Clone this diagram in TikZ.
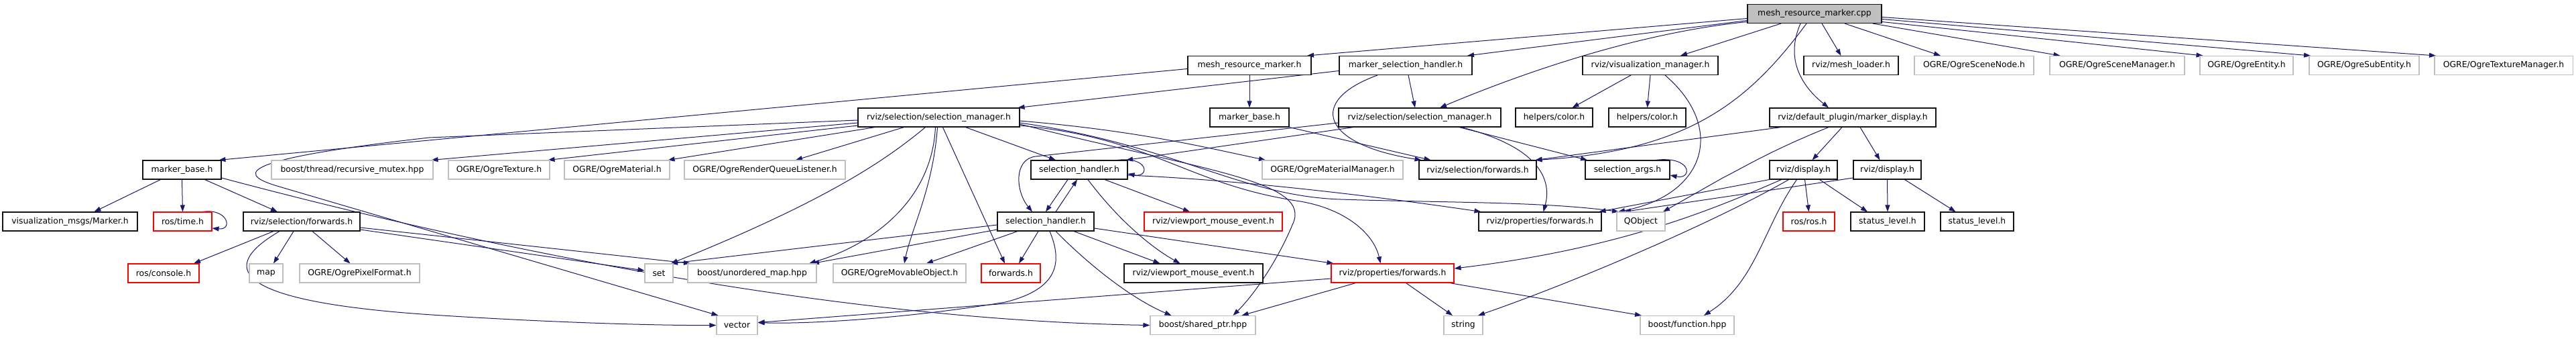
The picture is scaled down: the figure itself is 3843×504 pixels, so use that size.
\documentclass[tikz,border=0pt]{standalone}
\usepackage{fontspec}
\setmainfont{DejaVu Sans}
\usetikzlibrary{arrows.meta}
\definecolor{edgec}{RGB}{25,25,112}
\definecolor{boxgray}{RGB}{191,191,191}
\definecolor{boxred}{RGB}{255,0,0}
\definecolor{boxblack}{RGB}{20,20,20}
\newcommand\dxfont{\fontsize{12.4pt}{14pt}\selectfont}
\pgfdeclarelayer{bg}
\pgfsetlayers{bg,main}
\begin{document}
\begin{tikzpicture}[x=1pt,y=-1pt,
  nd/.style={draw=boxblack, fill=white, line width=1.1pt, minimum height=28pt, inner sep=0pt, font=\dxfont, text=black},
  ndg/.style={nd, draw=boxgray},
  ndr/.style={nd, draw=boxred},
  ndc/.style={nd, fill=boxgray},
  conn/.style={draw=edgec, line width=1pt, -{Triangle[length=10pt,width=7pt]}}]
\useasboundingbox (0,0) rectangle (3843,504);
% row 1
\node[ndc, minimum width=200pt] (cpp) at (2707,20.5) {mesh\_resource\_marker.cpp};
% row 2
\node[nd, minimum width=184pt] (mrmh) at (1864,97.5) {mesh\_resource\_marker.h};
\node[nd, minimum width=198pt] (msh) at (2097,97.5) {marker\_selection\_handler.h};
\node[nd, minimum width=202pt] (vm) at (2462,97.5) {rviz/visualization\_manager.h};
\node[nd, minimum width=141pt] (ml) at (2761.5,97.5) {rviz/mesh\_loader.h};
\node[ndg, minimum width=178pt] (sn) at (2945,97.5) {OGRE/OgreSceneNode.h};
\node[ndg, minimum width=201pt] (smg) at (3158.5,97.5) {OGRE/OgreSceneManager.h};
\node[ndg, minimum width=139pt] (ent) at (3351.5,97.5) {OGRE/OgreEntity.h};
\node[ndg, minimum width=164pt] (sub) at (3527,97.5) {OGRE/OgreSubEntity.h};
\node[ndg, minimum width=206pt] (tm) at (3735,97.5) {OGRE/OgreTextureManager.h};
% row 3
\node[nd, minimum width=241pt] (selm1) at (1400.5,175) {rviz/selection/selection\_manager.h};
\node[nd, minimum width=118pt] (mb2) at (1864,175) {marker\_base.h};
\node[nd, minimum width=242pt] (selm2) at (2118,175) {rviz/selection/selection\_manager.h};
\node[nd, minimum width=115pt] (col1) at (2318.5,175) {helpers/color.h};
\node[nd, minimum width=115pt] (col2) at (2457.5,175) {helpers/color.h};
\node[nd, minimum width=248pt] (md) at (2764,175) {rviz/default\_plugin/marker\_display.h};
% row 4
\node[nd, minimum width=117pt] (mb1) at (271.5,253) {marker\_base.h};
\node[ndg, minimum width=241pt] (rm) at (525.5,253) {boost/thread/recursive\_mutex.hpp};
\node[ndg, minimum width=151pt] (tex) at (744.5,253) {OGRE/OgreTexture.h};
\node[ndg, minimum width=157pt] (mat) at (920.5,253) {OGRE/OgreMaterial.h};
\node[ndg, minimum width=240pt] (rql) at (1141,253) {OGRE/OgreRenderQueueListener.h};
\node[nd, minimum width=144pt] (sh1) at (1610,253) {selection\_handler.h};
\node[ndg, minimum width=210pt] (mm) at (1988,253) {OGRE/OgreMaterialManager.h};
\node[nd, minimum width=175pt] (sf2) at (2204.5,253) {rviz/selection/forwards.h};
\node[nd, minimum width=126pt] (sa) at (2428,253) {selection\_args.h};
\node[nd, minimum width=101pt] (d1) at (2690.5,253) {rviz/display.h};
\node[nd, minimum width=101pt] (d2) at (2815.5,253) {rviz/display.h};
% row 5
\node[nd, minimum width=201pt] (vmm) at (104.5,330) {visualization\_msgs/Marker.h};
\node[ndr, minimum width=87pt] (rt) at (272.5,330) {ros/time.h};
\node[nd, minimum width=174pt] (sf1) at (450,330) {rviz/selection/forwards.h};
\node[nd, minimum width=144pt] (sh2) at (1560,330) {selection\_handler.h};
\node[ndr, minimum width=206pt] (vme1) at (1810,330) {rviz/viewport\_mouse\_event.h};
\node[nd, minimum width=183pt] (pf1) at (2297.5,330) {rviz/properties/forwards.h};
\node[ndg, minimum width=72pt] (qo) at (2448,330) {QObject};
\node[ndr, minimum width=77pt] (rr) at (2698.5,330) {ros/ros.h};
\node[nd, minimum width=110pt] (sl1) at (2816,330) {status\_level.h};
\node[nd, minimum width=109pt] (sl2) at (2949.5,330) {status\_level.h};
% row 6
\node[ndr, minimum width=106pt] (rc) at (244,407) {ros/console.h};
\node[ndg, minimum width=50pt] (map) at (397,407) {map};
\node[ndg, minimum width=179pt] (pix) at (536.5,407) {OGRE/OgrePixelFormat.h};
\node[ndg, minimum width=42pt] (set) at (983,407) {set};
\node[ndg, minimum width=192pt] (um) at (1122,407) {boost/unordered\_map.hpp};
\node[ndg, minimum width=198pt] (mo) at (1342,407) {OGRE/OgreMovableObject.h};
\node[ndr, minimum width=88pt] (fw) at (1508,407) {forwards.h};
\node[nd, minimum width=207pt] (vme2) at (1780.5,407) {rviz/viewport\_mouse\_event.h};
\node[ndr, minimum width=183pt] (pf2) at (2077.5,407) {rviz/properties/forwards.h};
% row 7
\node[ndg, minimum width=61pt] (vec) at (1099.5,484.5) {vector};
\node[ndg, minimum width=157pt] (sp) at (1794.5,484.5) {boost/shared\_ptr.hpp};
\node[ndg, minimum width=58pt] (str) at (2183,484.5) {string};
\node[ndg, minimum width=140pt] (bf) at (2517,484.5) {boost/function.hpp};

\begin{pgfonlayer}{bg}
\fill[white] (0,0) rectangle (3843,504);
% cpp
\draw[conn] ([yshift=-7pt]cpp.west) -- ([xshift=86pt]mrmh.north);
\draw[conn] ([yshift=-10pt]cpp.west) -- ([xshift=92pt]msh.north);
\draw[conn] ([yshift=-12pt]cpp.west) .. controls (2450,48) and (2280,105) .. ([xshift=30pt]selm2.north);
\draw[conn] ([xshift=-50pt]cpp.south) -- ([xshift=45pt]vm.north);
\draw[conn] ([xshift=11pt]cpp.south) -- ([xshift=-15pt]ml.north);
\draw[conn] ([xshift=45pt]cpp.south) -- ([xshift=-50pt]sn.north);
\draw[conn] ([xshift=87pt]cpp.south) -- ([xshift=-85pt]smg.north);
\draw[conn] ([yshift=-12pt]cpp.east) -- ([xshift=-65pt]ent.north);
\draw[conn] ([yshift=-8pt]cpp.east) -- ([xshift=-80pt]sub.north);
\draw[conn] ([yshift=-5pt]cpp.east) -- ([xshift=-101pt]tm.north);
\draw[conn] ([xshift=-21pt]cpp.south) .. controls (2662,90) and (2690,130) .. ([xshift=-36pt]md.north);
\draw[conn] ([xshift=-12pt]cpp.south) .. controls (2610,150) and (2520,225) .. ([xshift=86pt]sf2.north);
% mesh_resource_marker.h
\draw[conn] ([yshift=-5pt]mrmh.west) -- ([xshift=55pt]mb1.north);
\draw[conn] (mrmh.south) -- (mb2.north);
% marker_selection_handler.h
\draw[conn] ([yshift=-8pt]msh.west) -- ([xshift=118pt]selm1.north);
\draw[conn] ([xshift=4pt]msh.south) -- ([xshift=-7pt]selm2.north);
\draw[conn] ([xshift=-42pt]msh.south) .. controls (1950,150) and (1970,215) .. ([xshift=-84pt]sf2.north);
% marker_base.h (2)
\draw[conn] (mb2.south east) -- ([xshift=-70pt]sf2.north);
% marker_base.h (1)
\draw[conn] ([xshift=-32pt]mb1.south) -- ([xshift=36pt]vmm.north);
\draw[conn] (mb1.south) -- (rt.north);
\draw[conn] ([xshift=34pt]mb1.south) -- ([xshift=-36pt]sf1.north);
\draw[conn] ([yshift=-12pt]mb1.east) .. controls (800,390) and (1300,478) .. (sp.west);
\draw[conn] ([xshift=30pt]rt.north) .. controls (340,310) and (348,343) .. ([yshift=-10pt]rt.east);
% rviz/selection/forwards.h (1)
\draw[conn] ([xshift=-42pt]sf1.south) -- ([xshift=45pt]rc.north);
\draw[conn] ([xshift=-12pt]sf1.south) -- ([xshift=11pt]map.north);
\draw[conn] ([xshift=16pt]sf1.south) -- ([xshift=-14pt]pix.north);
\draw[conn] ([xshift=-33pt]sf1.south) .. controls (330,395) and (330,450) .. (660,470) .. controls (850,482) and (1000,485) .. (vec.west);
\draw[conn] ([yshift=-12pt]sf1.east) -- ([yshift=4pt]set.west);
\draw[conn] ([yshift=-9pt]sf1.east) -- ([xshift=-92pt]um.north);
% selection_manager.h (1)
\draw[conn] ([yshift=-8pt]selm1.west) -- ([xshift=118pt]rm.north);
\draw[conn] ([yshift=-12pt]selm1.west) -- ([xshift=73pt]tex.north);
\draw[conn] ([xshift=-95pt]selm1.south) -- ([xshift=76pt]mat.north);
\draw[conn] ([xshift=-52pt]selm1.south) -- ([xshift=46pt]rql.north);
\draw[conn] ([xshift=-20pt]selm1.south) .. controls (1320,240) and (1230,300) .. ([xshift=18pt]set.north);
\draw[conn] ([xshift=-5pt]selm1.south) .. controls (1390,300) and (1300,365) .. ([xshift=85pt]um.north);
\draw[conn] ([xshift=-2pt]selm1.south) .. controls (1392,280) and (1360,340) .. ([xshift=7pt]mo.north);
\draw[conn] ([xshift=6pt]selm1.south) -- ([xshift=-9pt]fw.north);
\draw[conn] ([xshift=40pt]selm1.south) -- ([xshift=-35pt]sh1.north);
\draw[conn] ([yshift=-5pt]selm1.east) .. controls (1700,195) and (1800,220) .. ([xshift=-100pt]mm.north);
\draw[conn] ([yshift=-8pt]selm1.east) .. controls (1750,215) and (1850,292) .. (2000,297) .. controls (2150,302) and (2300,300) .. ([xshift=-33pt]qo.north);
\draw[conn] ([yshift=-10pt]selm1.east) .. controls (1800,255) and (1960,270) .. (1928,335) .. controls (1905,390) and (1870,440) .. ([xshift=45pt]sp.north);
\draw[conn] ([yshift=-12pt]selm1.east) .. controls (1720,205) and (1770,275) .. (1940,300) .. controls (2010,312) and (2050,350) .. ([xshift=-18pt]pf2.north);
\draw[conn] ([yshift=-4pt]selm1.west) -- (640,205) .. controls (330,240) and (360,262) .. (420,279) -- ([xshift=-28pt]vec.north);
% selection_manager.h (2)
\draw[conn] ([xshift=-99pt]selm2.south) -- ([xshift=70pt]sh1.north);
\draw[conn] ([yshift=-8pt]selm2.west) -- (1545,233) .. controls (1512,237) and (1515,285) .. ([xshift=-20pt]sh2.north);
\draw[conn] ([xshift=59pt]selm2.south) -- ([xshift=-60pt]sa.north);
\draw[conn] ([xshift=62pt]selm2.south) .. controls (2300,220) and (2315,270) .. ([xshift=5pt]pf1.north);
% marker_display.h
\draw[conn] ([xshift=-107pt]md.south) -- ([xshift=86pt]sf2.north);
\draw[conn] ([xshift=-16pt]md.south) -- ([xshift=13pt]d1.north);
\draw[conn] ([xshift=11pt]md.south) -- ([xshift=-11pt]d2.north);
\draw[conn] ([xshift=-36pt]md.south) .. controls (2640,225) and (2600,250) .. (2570,265) -- ([xshift=33pt]qo.north);
% display.h (1)
\draw[conn] ([xshift=2pt]d1.south) -- (rr.north);
\draw[conn] ([xshift=24pt]d1.south) -- ([xshift=-30pt]sl1.north);
\draw[conn] (d1.south west) -- ([xshift=88pt]pf1.north);
\draw[conn] ([xshift=-33pt]d1.south) .. controls (2560,310) and (2420,370) .. ([yshift=7pt]pf2.east);
\draw[conn] ([xshift=-22pt]d1.south) .. controls (2560,330) and (2350,420) .. ([xshift=22pt]str.north);
\draw[conn] ([xshift=-10pt]d1.south) .. controls (2630,340) and (2620,420) .. ([xshift=25pt]bf.north);
% display.h (2)
\draw[conn] (d2.south) -- (sl1.north);
\draw[conn] ([xshift=26pt]d2.south) -- ([xshift=-32pt]sl2.north);
\draw[conn] ([yshift=-12pt]d2.west) -- ([xshift=-25pt]qo.north);
% visualization_manager.h
\draw[conn] ([xshift=-29pt]vm.south) -- ([xshift=27pt]col1.north);
\draw[conn] (vm.south) -- (col2.north);
\draw[conn] ([xshift=22pt]vm.south) .. controls (2575,190) and (2545,290) .. ([xshift=-34pt]qo.north);
% selection_handler.h (1)
\draw[conn] ([xshift=-17pt]sh1.south) -- (sh2.north);
\draw[conn] ([xshift=13pt]sh1.south) .. controls (1670,330) and (1720,370) .. ([xshift=-20pt]vme2.north);
\draw[conn] ([xshift=38pt]sh1.south) -- ([xshift=-35pt]vme1.north);
\draw[conn] ([xshift=57pt]sh1.north) .. controls (1715,233) and (1715,265) .. ([yshift=-6pt]sh1.east);
\draw[conn] ([yshift=-8pt]sh1.east) .. controls (1850,268) and (2050,292) .. ([xshift=-88pt]pf1.north);
% selection_handler.h (2)
\draw[conn] ([xshift=15pt]sh2.north) -- ([xshift=-3pt]sh1.south);
\draw[conn] ([yshift=-5pt]sh2.west) -- ([xshift=18pt]set.north);
\draw[conn] ([yshift=-12pt]sh2.west) -- ([xshift=90pt]um.north);
\draw[conn] ([xshift=-42pt]sh2.south) -- ([xshift=40pt]mo.north);
\draw[conn] ([xshift=-11pt]sh2.south) -- ([xshift=12pt]fw.north);
\draw[conn] ([xshift=6pt]sh2.south) .. controls (1585,390) and (1580,430) .. (1500,450) .. controls (1350,475) and (1200,483) .. ([yshift=4pt]vec.east);
\draw[conn] ([xshift=15pt]sh2.south) .. controls (1640,410) and (1700,450) .. ([xshift=-47pt]sp.north);
\draw[conn] ([xshift=42pt]sh2.south) -- ([xshift=-50pt]vme2.north);
\draw[conn] ([yshift=-10pt]sh2.east) -- ([xshift=-88pt]pf2.north);
% rviz/properties/forwards.h (red)
\draw[conn] ([yshift=-8pt]pf2.west) -- ([yshift=4pt]vec.east);
\draw[conn] ([xshift=-55pt]pf2.south) -- ([xshift=58pt]sp.north);
\draw[conn] ([xshift=20pt]pf2.south) -- ([xshift=-16pt]str.north);
\draw[conn] ([xshift=85pt]pf2.south) -- ([xshift=-68pt]bf.north);
% selection_args.h self loop
\draw[conn] ([xshift=42pt]sa.north) .. controls (2525,232) and (2525,268) .. ([yshift=-8pt]sa.east);
\end{pgfonlayer}
\end{tikzpicture}
\end{document}
